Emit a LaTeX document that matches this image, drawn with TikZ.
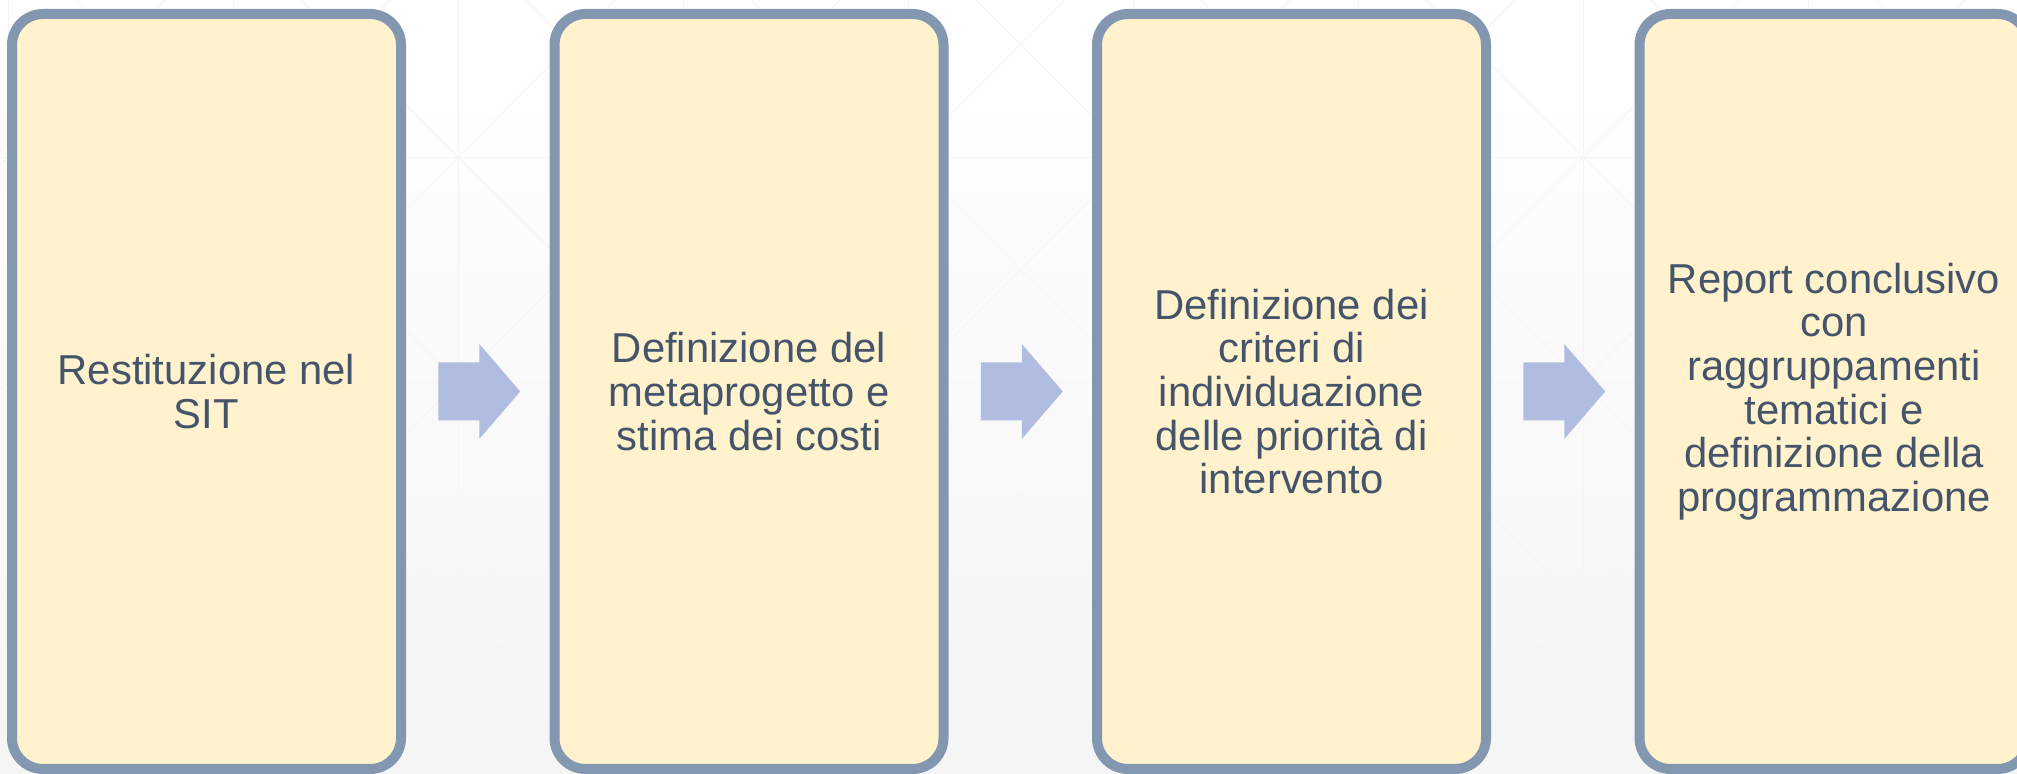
\documentclass[tikz,border=0pt]{standalone}
\usepackage{fontspec}
\setmainfont{Liberation Sans}
\usetikzlibrary{positioning,calc}
\definecolor{bordo}{HTML}{8497B0}
\definecolor{sfondo}{HTML}{FFF2CC}
\definecolor{testo}{HTML}{44546A}
\definecolor{freccia}{HTML}{B0BCE0}
\begin{document}
\begin{tikzpicture}[line cap=butt,line join=miter]
	\tikzset{fase/.style={draw=bordo,fill=sfondo,line width=1mm,rounded corners=3.1mm,
			minimum width=3.89cm,minimum height=7.55cm,inner sep=0pt,outer sep=0pt,
			align=center,text=testo,font=\fontsize{11.9pt}{12.4pt}\selectfont},
		trama/.style={draw=black!4,line width=.25pt},
		node distance=1.535cm
	}
	\useasboundingbox (0,0) rectangle (20.17,7.74);
	\clip (0,0) rectangle (20.17,7.74);
	% sfondo
	\shade[top color=white,middle color=white,bottom color=black!4] (0,0) rectangle (20.17,7.74);
	\begin{scope}[shift={(4.58,6.17)}]
		\draw[trama,step=2.25] (-6.75,-6.75) grid (18,2.25);
		\foreach \k in {-5,...,10}{
			\draw[trama] (2.25*\k-10,-10)--++(20,20);
			\draw[trama] (2.25*\k-10,10)--++(20,-20);
		}
	\end{scope}
	% fasi
	\node[fase] (sit) at (2.065,3.825) {Restituzione nel\\SIT};
	\node[fase,right=of sit] (meta) {Definizione del\\metaprogetto e\\stima dei costi};
	\node[fase,right=of meta] (criteri) {Definizione dei\\criteri di\\individuazione\\delle priorità di\\intervento};
	\node[fase,right=of criteri] (report) {Report conclusivo\\con\\raggruppamenti\\tematici e\\definizione della\\programmazione};
	% frecce
	\foreach \a/\b in {sit/meta,meta/criteri,criteri/report}
		\fill[freccia] ($(\a.east)!.5!(\b.west)$) ++(-.395,.29) -- ++(.41,0) -- ++(0,.185)
			-- ++(.41,-.475) -- ++(-.41,-.475) -- ++(0,.185) -- ++(-.41,0) -- cycle;
\end{tikzpicture}
\end{document}
